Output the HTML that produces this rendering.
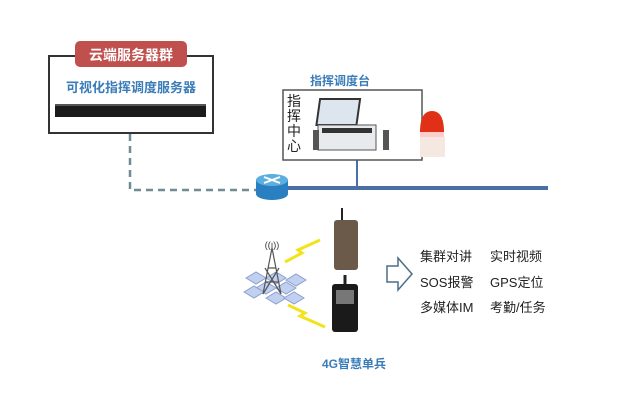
<!DOCTYPE html>
<html><head><meta charset="utf-8"><style>
body{margin:0;width:640px;height:401px;background:#fff;overflow:hidden;position:relative;font-family:"Liberation Sans","Noto Sans CJK SC",sans-serif}
.a{position:absolute}
</style></head><body>
<svg class="a" style="left:0;top:0" width="640" height="401">
<rect x="49" y="56" width="164" height="77" fill="#fff" stroke="#333" stroke-width="2"/>
<rect x="75" y="41" width="112" height="26" rx="5" fill="#c0504d"/>
<rect x="55" y="104" width="151" height="13" fill="#1b1b1b"/>
<rect x="55" y="104" width="151" height="2" fill="#555"/>
<path d="M130 134 V190 H258" fill="none" stroke="#6f8b96" stroke-width="2.5" stroke-dasharray="7 5"/>
<line x1="285" y1="188" x2="548" y2="188" stroke="#4a6fa5" stroke-width="4"/>
<line x1="357" y1="160" x2="357" y2="188" stroke="#4a6fa5" stroke-width="2"/>
<rect x="256" y="180" width="32" height="14" fill="#2a7fc0"/>
<ellipse cx="272" cy="194" rx="16" ry="6" fill="#2a7fc0"/>
<ellipse cx="272" cy="180" rx="16" ry="6" fill="#5aaee0"/>
<path d="M264 177 l16 6 M264 183 l16 -6" stroke="#fff" stroke-width="2"/>
<rect x="283" y="90" width="139" height="70" fill="#fff" stroke="#555" stroke-width="1.5"/>
<rect x="334" y="99" width="40" height="26" fill="#dde6ee" stroke="#333" stroke-width="2" transform="skewX(-8)"/>
<rect x="318" y="125" width="58" height="25" fill="#e8eaee" stroke="#555"/>
<rect x="322" y="128" width="50" height="5" fill="#333"/>
<rect x="313" y="130" width="6" height="20" fill="#555"/>
<rect x="383" y="130" width="6" height="20" fill="#555"/>
<path d="M420 132 Q420 111 432 111 Q444 111 444 132 Z" fill="#e03018"/>
<rect x="420" y="132" width="24" height="5" fill="#ffcccc"/>
<rect x="420" y="137" width="25" height="20" fill="#f4e8e0"/>
<g fill="#c2d0f0" stroke="#8aa0d0">
<polygon points="246,278 256,272 266,278 256,284"/><polygon points="266,278 276,272 286,278 276,284"/><polygon points="286,280 296,274 306,280 296,286"/>
<polygon points="256,288 266,282 276,288 266,294"/><polygon points="276,288 286,282 296,288 286,294"/><polygon points="244,292 254,286 264,292 254,298"/>
<polygon points="266,298 276,292 286,298 276,304"/><polygon points="284,298 294,292 304,298 294,304"/>
</g>
<path d="M263 294 L272 248 L281 294 M265 282 L279 282 M268 268 L276 268 M263 294 L279 268 M281 294 L265 268" stroke="#555" fill="none" stroke-width="1.2"/>
<text x="272" y="248" font-size="9" text-anchor="middle" fill="#333">((ı))</text>
<polyline points="285,262 302,253 298,250 320,240" fill="none" stroke="#f3e31c" stroke-width="3"/>
<polyline points="288,305 305,313 300,316 325,327" fill="none" stroke="#f3e31c" stroke-width="3"/>
<line x1="342" y1="208" x2="342" y2="220" stroke="#222" stroke-width="2"/>
<rect x="334" y="220" width="24" height="50" rx="3" fill="#6b5a4a"/>
<line x1="345" y1="275" x2="345" y2="286" stroke="#222" stroke-width="3"/>
<rect x="332" y="284" width="26" height="48" rx="3" fill="#1a1a1a"/>
<rect x="336" y="290" width="18" height="14" fill="#777"/>
<path d="M387 266 H398 V258 L412 274 L398 290 V282 H387 Z" fill="#fff" stroke="#4a6f8a" stroke-width="1.5"/>
</svg>
<div class="a" style="left:75px;top:45px;width:112px;text-align:center;color:#fff;font-weight:bold;font-size:14px">云端服务器群</div>
<div class="a" style="left:49px;top:77px;width:164px;text-align:center;color:#3a7cb8;font-weight:bold;font-size:13px">可视化指挥调度服务器</div>
<div class="a" style="left:310px;top:72px;color:#3a7cb8;font-weight:bold;font-size:12px">指挥调度台</div>
<div class="a" style="left:287px;top:94px;width:14px;font-size:14px;line-height:15px;color:#222">指挥中心</div>
<div class="a" style="left:420px;top:244px;font-size:13px;line-height:25.5px;color:#222">集群对讲<br>SOS报警<br>多媒体IM</div>
<div class="a" style="left:490px;top:244px;font-size:13px;line-height:25.5px;color:#222">实时视频<br>GPS定位<br>考勤/任务</div>
<div class="a" style="left:322px;top:355px;color:#3a7cb8;font-weight:bold;font-size:12px">4G智慧单兵</div>
</body></html>
